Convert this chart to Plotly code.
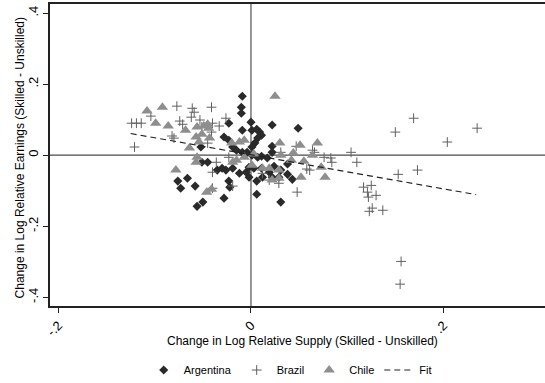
import plotly.graph_objects as go

# Argentina
arg_x = [-0.009, -0.010, -0.010, 0.000, -0.023, -0.009, -0.028, -0.023, 0.001, 0.006,
         0.009, 0.011, 0.007, 0.004, 0.001, 0.022, 0.049, -0.019, -0.015, -0.009,
         -0.004, 0.001, 0.007, 0.017, 0.022, 0.022, 0.011, -0.052, -0.051, -0.045,
         -0.035, -0.030, -0.026, -0.019, -0.012, -0.005, -0.002, 0.003, 0.011, 0.019,
         0.024, 0.031, 0.038, 0.038, 0.043, 0.022, 0.012, -0.002, -0.023, -0.022,
         0.006, 0.006, -0.028, -0.050, -0.056, 0.031, -0.076, -0.066, -0.073, -0.058,
         0.029]
arg_y = [0.166, 0.135, 0.118, 0.093, 0.090, 0.070, 0.051, 0.042, 0.070, 0.073,
         0.065, 0.056, 0.048, 0.034, 0.023, 0.085, 0.076, 0.023, 0.014, 0.008,
         0.008, 0.000, -0.006, -0.008, 0.025, 0.008, -0.003, 0.023, -0.020, -0.020,
         -0.042, -0.037, -0.042, -0.037, -0.051, -0.048, -0.034, -0.037, -0.037, -0.048,
         -0.031, -0.042, -0.025, -0.054, -0.068, -0.062, -0.062, -0.062, -0.073, -0.090,
         -0.073, -0.110, -0.121, -0.132, -0.144, -0.132, -0.073, -0.065, -0.093, -0.087,
         -0.062]

# Brazil
bra_x = [-0.124, -0.119, -0.114, -0.121, -0.104, -0.077, -0.061, -0.059, -0.041, -0.074,
         -0.071, -0.062, -0.053, -0.051, -0.040, -0.033, -0.026, -0.082, -0.080, -0.045,
         -0.036, -0.040, -0.019, -0.023, -0.041, 0.019, 0.029, 0.031, 0.048, 0.061,
         0.066, 0.012, 0.047, 0.064, 0.076, 0.083, 0.084, 0.104, 0.110, 0.058,
         0.117, 0.125, 0.121, 0.122, 0.130, 0.126, 0.123, 0.137, 0.153, 0.173,
         0.150, 0.169, 0.204, 0.235, 0.156, 0.155, -0.040]
bra_y = [0.090, 0.090, 0.090, 0.023, 0.110, 0.138, 0.132, 0.121, 0.135, 0.096,
         0.087, 0.107, 0.099, 0.079, 0.090, 0.082, 0.104, 0.054, 0.048, 0.034,
         -0.020, -0.048, -0.087, -0.006, 0.065, -0.070, -0.079, 0.008, -0.104, -0.042,
         0.008, -0.051, 0.025, 0.014, -0.006, -0.008, -0.020, 0.008, -0.020, -0.039,
         -0.090, -0.085, -0.104, -0.118, -0.113, -0.149, -0.158, -0.155, -0.054, -0.042,
         0.065, 0.104, 0.037, 0.076, -0.299, -0.363, -0.093]

# Chile
chi_x = [-0.108, -0.092, -0.099, -0.086, -0.068, -0.056, -0.049, -0.057, -0.051, -0.054,
         -0.043, -0.064, -0.044, -0.078, -0.057, -0.056, -0.046, -0.041, 0.025, -0.020,
         -0.012, -0.007, 0.030, 0.051, 0.069, -0.015, 0.001, 0.012, 0.019, 0.029,
         0.022, 0.029, 0.044, 0.064, 0.055, 0.073, 0.052, 0.077, -0.019, -0.007,
         0.003, 0.031, 0.042, -0.045]
chi_y = [0.124, 0.135, 0.090, 0.082, 0.070, 0.079, 0.082, 0.051, 0.059, 0.037,
         0.048, 0.020, 0.076, -0.042, -0.020, -0.006, -0.104, -0.096, 0.166, 0.034,
         0.037, 0.042, 0.034, 0.028, 0.034, -0.014, -0.028, -0.037, -0.037, -0.042,
         -0.070, -0.065, 0.006, 0.000, -0.017, -0.034, -0.062, -0.062, -0.020, -0.006,
         0.003, 0.000, -0.014, 0.087]

# Fit line end points
fit_x = [-0.125, 0.234]
fit_y = [0.061, -0.111]

x_ticks = [-0.2, 0, 0.2]
x_tick_text = ["-.2", "0", ".2"]
y_ticks = [-0.4, -0.2, 0, 0.2, 0.4]
y_tick_text = ["-.4", "-.2", "0", ".2", ".4"]

x_title = "Change in Log Relative Supply (Skilled - Unskilled)"
y_title = "Change in Log Relative Earnings (Skilled - Unskilled)"

FONT = "Arial, 'Liberation Sans', sans-serif"

fig = go.Figure()
fig.add_trace(go.Scatter(x=arg_x, y=arg_y, mode="markers", name="Argentina",
                         marker=dict(symbol="diamond", size=7, color="#2a2a2a",
                                     line=dict(width=0))))
fig.add_trace(go.Scatter(x=bra_x, y=bra_y, mode="markers", name="Brazil",
                         marker=dict(symbol="cross-thin", size=7, color="#606060",
                                     line=dict(width=1, color="#606060"))))
fig.add_trace(go.Scatter(x=chi_x, y=chi_y, mode="markers", name="Chile",
                         marker=dict(symbol="triangle-up", size=10, color="#8e8e8e",
                                     line=dict(width=0))))
fig.add_trace(go.Scatter(x=fit_x, y=fit_y, mode="lines", name="Fit",
                         line=dict(color="#222222", width=1.2, dash="6px,4px")))

fig.add_shape(type="line", xref="x", yref="paper", x0=0, x1=0, y0=0, y1=1,
              line=dict(color="#8c8c8c", width=1.8), layer="below")
fig.add_shape(type="line", xref="paper", yref="y", x0=0, x1=1, y0=0, y1=0,
              line=dict(color="#4a4a4a", width=1.2), layer="below")

fig.add_annotation(text=x_title, xref="paper", yref="paper", x=0.495, y=-0.116,
                   xanchor="center", yanchor="middle", showarrow=False,
                   font=dict(size=12))
fig.add_annotation(text=y_title, xref="paper", yref="paper", x=-0.058, y=0.49,
                   xanchor="center", yanchor="middle", showarrow=False,
                   textangle=-90, font=dict(size=12))

fig.update_layout(
    width=560, height=383,
    margin=dict(l=50, r=0, t=4, b=77, autoexpand=False),
    paper_bgcolor="white", plot_bgcolor="white",
    font=dict(family=FONT, color="#000000", size=11),
    showlegend=True,
    legend=dict(orientation="h", x=0.471, xanchor="center", y=-0.212, yanchor="middle",
                font=dict(size=11), itemwidth=30, tracegroupgap=0,
                bgcolor="rgba(0,0,0,0)"),
)
fig.update_xaxes(range=[-0.2088, 0.3211], tickvals=x_ticks, ticktext=x_tick_text,
                 tickangle=-45, ticks="outside", ticklen=5, tickwidth=1,
                 tickcolor="#222", showgrid=False, zeroline=False, automargin=False,
                 showline=True, linecolor="#222", linewidth=1.6, mirror=True,
                 tickfont=dict(size=13))
fig.update_yaxes(range=[-0.4245, 0.4255], tickvals=y_ticks, ticktext=y_tick_text,
                 tickangle=-90, ticks="outside", ticklen=5, tickwidth=1,
                 tickcolor="#222", showgrid=False, zeroline=False, automargin=False,
                 showline=True, linecolor="#222", linewidth=1.6, mirror=False,
                 tickfont=dict(size=13))

fig.write_html("out.html", config={"displayModeBar": False, "staticPlot": True},
               post_script=("document.documentElement.style.overflow='hidden';"
                            "document.body.style.overflow='hidden';"
                            "document.body.style.margin='0px';"
                            "document.body.style.padding='0px';"))
